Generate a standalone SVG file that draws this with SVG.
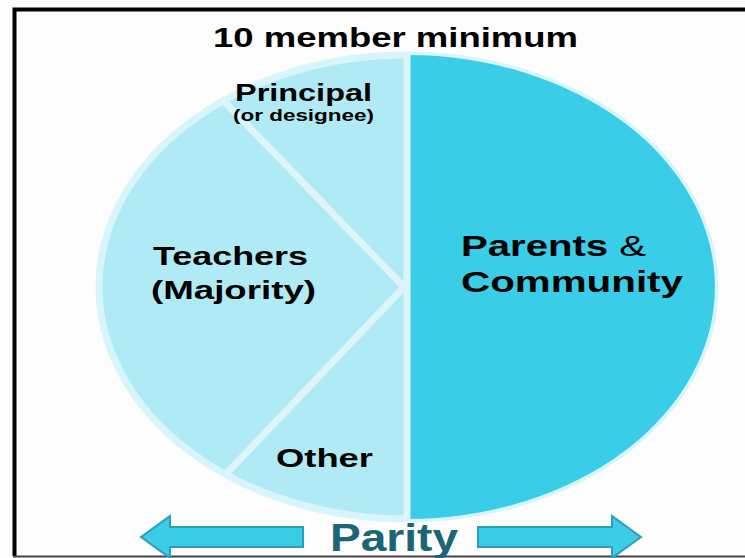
<svg xmlns="http://www.w3.org/2000/svg" width="745" height="558" viewBox="0 0 745 558">
<style>
.t{font-family:"Liberation Sans",Arial,sans-serif;font-weight:bold;fill:#000}
.arrow{fill:#3ccde6;stroke:#2a9fb5;stroke-width:2}
.sep{stroke:#dcf5fb;stroke-width:7;fill:none}
</style>
<rect x="0" y="0" width="745" height="558" fill="#fdfdfd"/>
<path d="M745,9.5 H14.5 V556" fill="none" stroke="#000" stroke-width="4"/>
<line x1="13" y1="556.5" x2="745" y2="556.5" stroke="#444" stroke-width="2"/>
<g id="pie">
<ellipse cx="407" cy="287" rx="308" ry="232" fill="#b0eaf5" stroke="#d8f5fb" stroke-width="7"/>
<path d="M407,55 A308,232 0 0 1 407,519 Z" fill="#3acde7"/>
<line class="sep" x1="407" y1="52" x2="407" y2="522"/>
<line class="sep" x1="221" y1="98" x2="404" y2="287"/>
<line class="sep" x1="404" y1="287" x2="226" y2="474"/>
</g>
<g id="title"><text class="t" x="213" y="47" font-size="27" textLength="365" lengthAdjust="spacingAndGlyphs">10 member minimum</text></g>
<g id="principal">
<text class="t" x="235" y="101" font-size="24" textLength="137" lengthAdjust="spacingAndGlyphs">Principal</text>
<text class="t" x="233" y="121" font-size="16" textLength="141" lengthAdjust="spacingAndGlyphs">(or designee)</text>
</g>
<g id="teachers">
<text class="t" x="153" y="265" font-size="26" textLength="155" lengthAdjust="spacingAndGlyphs">Teachers</text>
<text class="t" x="151" y="299" font-size="26" textLength="165" lengthAdjust="spacingAndGlyphs">(Majority)</text>
</g>
<g id="parents">
<text class="t" x="461" y="256" font-size="29" textLength="185" lengthAdjust="spacingAndGlyphs">Parents <tspan font-weight="normal">&amp;</tspan></text>
<text class="t" x="461" y="292" font-size="29" textLength="222" lengthAdjust="spacingAndGlyphs">Community</text>
</g>
<g id="other"><text class="t" x="276" y="467" font-size="26" textLength="97" lengthAdjust="spacingAndGlyphs">Other</text></g>
<g id="parity">
<polygon class="arrow" points="141,537 170,516 170,527 303,527 303,547 170,547 170,558"/>
<polygon class="arrow" points="641,537 612,516 612,527 478,527 478,547 612,547 612,558"/>
<text x="330" y="551" font-family="Liberation Sans,Arial,sans-serif" font-weight="bold" font-size="38" fill="#1b6676" textLength="128" lengthAdjust="spacingAndGlyphs">Parity</text>
</g>
</svg>
